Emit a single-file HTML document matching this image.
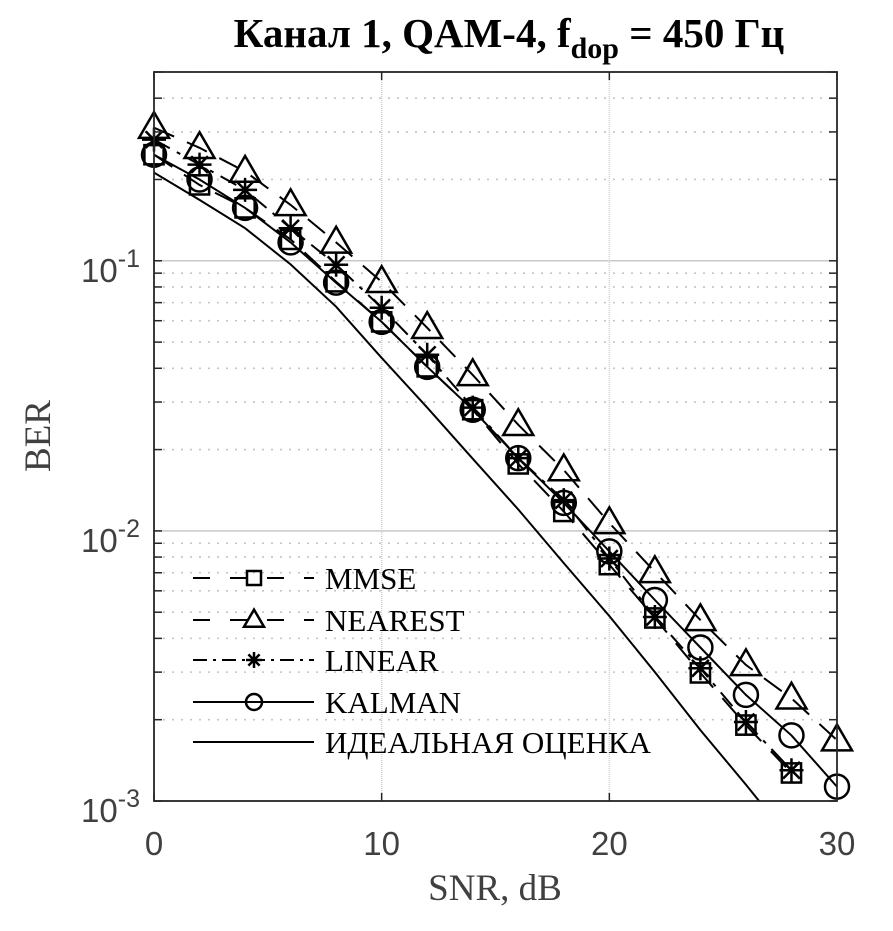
<!DOCTYPE html>
<html><head><meta charset="utf-8">
<style>
html,body{margin:0;padding:0;background:#fff;}
svg{display:block;}
</style></head>
<body>
<svg id="chart" width="893" height="931" viewBox="0 0 893 931" xmlns="http://www.w3.org/2000/svg">
<text x="509" y="47" text-anchor="middle" font-family="Liberation Serif, serif" font-weight="bold" font-size="41">Канал 1, QAM-4, f<tspan font-size="30" dy="11">dop</tspan><tspan dy="-11"> = 450 Гц</tspan></text>
<g id="grid"></g>
<g id="series"></g>
<g id="axes"></g>
<g id="legend"></g>
<text transform="translate(50,436) rotate(-90)" text-anchor="middle" font-family="Liberation Serif, serif" font-size="37" fill="#404040">BER</text>
<text x="495" y="900" text-anchor="middle" font-family="Liberation Serif, serif" font-size="37" fill="#404040">SNR, dB</text>
</svg>
<script>
const snr = [0,2,4,6,8,10,12,14,16,18,20,22,24,26,28,30];
const mmse = [0.247,0.191,0.157,0.120,0.0836,0.0594,0.0405,0.0281,0.0177,0.0118,0.0075,0.00476,0.00298,0.00191,0.00127];
const nearest = [0.311,0.262,0.214,0.161,0.117,0.0836,0.0565,0.0378,0.0247,0.0168,0.0107,0.00705,0.00468,0.00319,0.0024,0.00168];
const linear = [0.281,0.227,0.183,0.132,0.0967,0.067,0.0449,0.0286,0.0186,0.013,0.0079,0.0048,0.0031,0.00196,0.0013];
const kalman = [0.247,0.2,0.157,0.117,0.083,0.0594,0.0405,0.0281,0.0186,0.0127,0.0084,0.00555,0.0037,0.00247,0.00175,0.00113];
const ideal = [0.212,0.168,0.132,0.097,0.0676,0.0437,0.0286,0.0185,0.012,0.0076,0.00484,0.0030,0.00183,0.00115,0.00071];
const xTicks = [0,10,20,30];
const yTickExp = [-1,-2,-3];

const NS='http://www.w3.org/2000/svg';
const L=154,R=837,T=72,B=801;
const xMin=0,xMax=30,yMin=-3,yMax=Math.log10(0.5);
function xs(v){return L+(v-xMin)/(xMax-xMin)*(R-L);}
function ys(v){return B-(Math.log10(v)-yMin)/(yMax-yMin)*(B-T);}
function mk(tag,attrs,parent){const e=document.createElementNS(NS,tag);for(const k in attrs)e.setAttribute(k,attrs[k]);parent.appendChild(e);return e;}
const grid=document.getElementById('grid'),axes=document.getElementById('axes'),ser=document.getElementById('series'),leg=document.getElementById('legend');

for(let d=-3;d<0;d++){for(let m=1;m<10;m++){const v=m*Math.pow(10,d);if(v>0.5)break;const y=ys(v);
 const g=mk('line',{x1:L,x2:R,y1:y,y2:y,stroke:m===1?'#c8c8c8':'#c4c4c4','stroke-width':m===1?1.5:1.6,'stroke-dasharray':m===1?'':'2,7'},grid);
 
 
 const t1=mk('line',{x1:L,x2:L+8,y1:y,y2:y,stroke:'#262626','stroke-width':1.5},axes);
 
 
 const t2=mk('line',{x1:R,x2:R-8,y1:y,y2:y,stroke:'#262626','stroke-width':1.5},axes);
 
 
}}
xTicks.forEach(v=>{const x=xs(v);
 if(v>xMin&&v<xMax){const g=mk('line',{x1:x,x2:x,y1:T,y2:B,stroke:'#d0d0d0','stroke-width':1.5,'stroke-dasharray':'1,1'},grid);
 
 }
 const t=mk('line',{x1:x,x2:x,y1:B,y2:B-8,stroke:'#262626','stroke-width':1.5},axes);
 
 
 const t2=mk('line',{x1:x,x2:x,y1:T,y2:T+8,stroke:'#262626','stroke-width':1.5},axes);
 
 
 const l=mk('text',{x:x,y:855,'text-anchor':'middle','font-family':'Liberation Sans, sans-serif','font-size':33,fill:'#404040'},axes);
 l.textContent=String(v);
 
 
});
yTickExp.forEach(e=>{const y=ys(Math.pow(10,e));
 const l=mk('text',{x:140,y:y+21,'text-anchor':'end','font-family':'Liberation Sans, sans-serif','font-size':33,fill:'#404040'},axes);
 l.innerHTML='10<tspan font-size="25" dy="-15">'+e+'</tspan>';
 
 
});
const box=mk('rect',{x:L,y:T,width:R-L,height:B-T,fill:'none',stroke:'#262626','stroke-width':1.8},axes);



const defs=mk('defs',{},document.getElementById('chart'));
const cp2=mk('clipPath',{id:'pc2'},defs);mk('rect',{x:L,y:T,width:R-L,height:B-T},cp2);

function marker(type,x,y,s,parent){
 let e;
 if(type==='square'){e=mk('rect',{x:x-s*0.8,y:y-s*0.8,width:s*1.6,height:s*1.6,fill:'none',stroke:'#000','stroke-width':2.5},parent);}
 else if(type==='tri'){e=mk('polygon',{points:`${x},${y-s*1.3} ${x-s*1.25},${y+s*0.85} ${x+s*1.25},${y+s*0.85}`,fill:'none',stroke:'#000','stroke-width':2.5},parent);}
 else if(type==='star'){e=mk('path',{d:`M${x-s},${y}H${x+s}M${x},${y-s}V${y+s}M${x-s*0.7},${y-s*0.7}L${x+s*0.7},${y+s*0.7}M${x-s*0.7},${y+s*0.7}L${x+s*0.7},${y-s*0.7}`,fill:'none',stroke:'#000','stroke-width':2.5},parent);}
 else if(type==='circle'){e=mk('circle',{cx:x,cy:y,r:s,fill:'none',stroke:'#000','stroke-width':2.5},parent);}
 return e;
}
const seriesDefs=[
 {name:'mmse',data:mmse,dash:'22,14',m:'square',label:'MMSE'},
 {name:'nearest',data:nearest,dash:'22,14',m:'tri',label:'NEAREST'},
 {name:'linear',data:linear,dash:'18,8,4,8',m:'star',label:'LINEAR'},
 {name:'kalman',data:kalman,dash:'',m:'circle',label:'KALMAN'},
 {name:'ideal',data:ideal,dash:'',m:null,label:'ИДЕАЛЬНАЯ ОЦЕНКА'}
];
seriesDefs.forEach((s,si)=>{
 const pts=s.data.map((v,i)=>xs(snr[i]).toFixed(1)+','+ys(v).toFixed(1)).join(' ');
 const pl=mk('polyline',{points:pts,fill:'none',stroke:'#000','stroke-width':2,'stroke-dasharray':s.dash,'clip-path':'url(#pc2)'},ser);
 
 
 if(s.m){s.data.forEach((v,i)=>{const e=marker(s.m,xs(snr[i]),ys(v),12,ser);
  
  });}
 const ly=[578,620,660,702,742][si];
 const g=mk('g',{},leg);
 
 
 mk('line',{x1:193,x2:314,y1:ly,y2:ly,stroke:'#000','stroke-width':2,'stroke-dasharray':s.dash==='22,14'?'17,20':(s.dash==='18,8,4,8'?'14,6,3,6':'')},g);
 if(s.m){const e=marker(s.m,254,ly,8,g);if(s.m==='square'){e.setAttribute('x',247);e.setAttribute('y',ly-7);e.setAttribute('width',14);e.setAttribute('height',14);}}
 const t=mk('text',{x:325,y:ly+11,'font-family':'Liberation Serif, serif','font-size':31,fill:'#000'},g);
 t.textContent=s.label;
});
</script>
</body></html>
